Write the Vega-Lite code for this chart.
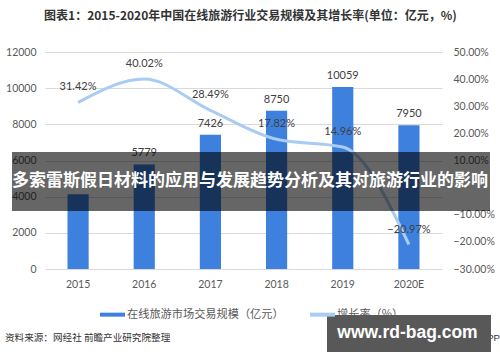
{
  "$schema": "https://vega.github.io/schema/vega-lite/v6.json",
  "width": 397,
  "height": 217,
  "autosize": {"type": "none"},
  "padding": {"left": 45, "top": 52, "right": 58, "bottom": 93},
  "background": "white",
  "title": {
    "text": "图表1：2015-2020年中国在线旅游行业交易规模及其增长率(单位：亿元，%)",
    "font": "Noto Sans CJK SC",
    "fontSize": 12,
    "fontWeight": "bold",
    "color": "#333333",
    "anchor": "middle",
    "dx": 7,
    "offset": 24
  },
  "config": {
    "view": {"stroke": null},
    "font": "Lato"
  },
  "layer": [
    {
      "data": {
        "values": [
          {"年份": "2015", "交易规模": 4127, "增长率": 0.3142},
          {"年份": "2016", "交易规模": 5779, "增长率": 0.4002},
          {"年份": "2017", "交易规模": 7426, "增长率": 0.2849},
          {"年份": "2018", "交易规模": 8750, "增长率": 0.1782},
          {"年份": "2019", "交易规模": 10059, "增长率": 0.1496},
          {"年份": "2020E", "交易规模": 7950, "增长率": -0.2097}
        ]
      },
      "encoding": {
        "x": {
          "field": "年份",
          "type": "ordinal",
          "sort": null,
          "scale": {"paddingInner": 0.68, "paddingOuter": 0.34},
          "axis": {
            "title": null,
            "labelAngle": 0,
            "domain": false,
            "ticks": false,
            "labelPadding": 10,
            "labelFont": "Lato",
            "labelFontSize": 10.5,
            "labelColor": "#595959"
          }
        }
      },
      "layer": [
        {
          "encoding": {
            "y": {
              "field": "交易规模",
              "type": "quantitative",
              "scale": {"domain": [0, 12000], "nice": false},
              "axis": {
                "title": null,
                "orient": "left",
                "values": [0, 2000, 4000, 6000, 8000, 10000, 12000],
                "format": "d",
                "domain": false,
                "ticks": false,
                "labelPadding": 9,
                "labelFont": "Lato",
                "labelFontSize": 10.5,
                "labelColor": "#595959",
                "grid": true,
                "gridColor": "#D9D9D9",
                "gridWidth": 1
              }
            }
          },
          "layer": [
            {
              "mark": {"type": "bar", "color": "#3E80DE"},
              "encoding": {
                "color": {
                  "datum": "在线旅游市场交易规模（亿元）",
                  "scale": {
                    "domain": ["在线旅游市场交易规模（亿元）", "增长率（%）"],
                    "range": ["#3E80DE", "#A8CCF2"]
                  },
                  "legend": {
                    "title": null,
                    "orient": "none",
                    "legendX": 55,
                    "legendY": 250,
                    "direction": "horizontal",
                    "symbolType": "M-1,-0.16H1V0.16H-1Z",
                    "symbolSize": 625,
                    "symbolStrokeWidth": 0,
                    "symbolOpacity": 1,
                    "labelFont": "Noto Sans CJK SC",
                    "labelFontSize": 11.2,
                    "labelColor": "#595959",
                    "labelLimit": 400,
                    "labelOffset": 2,
                    "columnPadding": 26,
                    "encode": {
                      "symbols": {
                        "update": {
                          "fill": {"scale": "color", "field": "value"},
                          "stroke": {"value": "transparent"}
                        }
                      }
                    }
                  }
                }
              }
            },
            {
              "transform": [{"filter": "datum['年份'] != '2015'"}],
              "mark": {
                "type": "text",
                "baseline": "bottom",
                "dy": -6,
                "font": "Lato",
                "fontSize": 11,
                "color": "#404040"
              },
              "encoding": {
                "text": {"field": "交易规模", "type": "quantitative", "format": "d"}
              }
            }
          ]
        },
        {
          "encoding": {
            "y": {
              "field": "增长率",
              "type": "quantitative",
              "scale": {"domain": [-0.3, 0.5], "nice": false},
              "axis": {
                "title": null,
                "orient": "right",
                "values": [-0.3, -0.2, -0.1, 0.1, 0.2, 0.3, 0.4, 0.5],
                "format": ".2%",
                "domain": false,
                "ticks": false,
                "grid": false,
                "labelPadding": 11,
                "labelFont": "Lato",
                "labelFontSize": 10.5,
                "labelColor": "#595959"
              }
            }
          },
          "layer": [
            {
              "mark": {
                "type": "line",
                "interpolate": "monotone",
                "strokeWidth": 3,
                "color": "#A8CCF2"
              },
              "encoding": {
                "color": {"datum": "增长率（%）"}
              }
            },
            {
              "mark": {
                "type": "text",
                "baseline": "middle",
                "dy": -15,
                "font": "Lato",
                "fontSize": 11,
                "color": "#404040"
              },
              "encoding": {
                "text": {"field": "增长率", "type": "quantitative", "format": ".2%"}
              }
            }
          ]
        }
      ],
      "resolve": {"scale": {"y": "independent"}}
    },
    {
      "data": {"values": [{}]},
      "encoding": {
        "x": {"datum": 0, "type": "quantitative", "scale": {"domain": [0, 100]}, "axis": null},
        "y": {"datum": 0, "type": "quantitative", "scale": {"domain": [0, 100]}, "axis": null}
      },
      "layer": [
        {
          "mark": {"type": "rect", "color": "black", "opacity": 0.6},
          "encoding": {
            "x": {"datum": -8.31, "type": "quantitative", "scale": {"domain": [0, 100]}, "axis": null},
            "x2": {"datum": 112.09},
            "y": {"datum": 53.92, "type": "quantitative", "scale": {"domain": [0, 100]}, "axis": null},
            "y2": {"datum": 26.73}
          }
        },
        {
          "mark": {
            "type": "text",
            "text": "多索雷斯假日材料的应用与发展趋势分析及其对旅游行业的影响",
            "font": "Noto Sans CJK SC",
            "fontSize": 17,
            "fontWeight": "bold",
            "color": "white",
            "align": "center",
            "baseline": "middle"
          },
          "encoding": {
            "x": {"datum": 51.64, "type": "quantitative", "scale": {"domain": [0, 100]}, "axis": null},
            "y": {"datum": 40.55, "type": "quantitative", "scale": {"domain": [0, 100]}, "axis": null}
          }
        },
        {
          "mark": {
            "type": "text",
            "text": "资料来源：网经社 前瞻产业研究院整理",
            "font": "Noto Sans CJK SC",
            "fontSize": 9.6,
            "color": "#333333",
            "align": "left",
            "baseline": "middle"
          },
          "encoding": {
            "x": {"datum": -10.08, "type": "quantitative", "scale": {"domain": [0, 100]}, "axis": null},
            "y": {"datum": -31.8, "type": "quantitative", "scale": {"domain": [0, 100]}, "axis": null}
          }
        },
        {
          "mark": {
            "type": "text",
            "text": "APP",
            "font": "Liberation Sans",
            "fontSize": 9.6,
            "color": "#333333",
            "align": "right",
            "baseline": "middle"
          },
          "encoding": {
            "x": {"datum": 114.6, "type": "quantitative", "scale": {"domain": [0, 100]}, "axis": null},
            "y": {"datum": -31.8, "type": "quantitative", "scale": {"domain": [0, 100]}, "axis": null}
          }
        },
        {
          "mark": {"type": "rect", "color": "#585858", "opacity": 1},
          "encoding": {
            "x": {"datum": 71.03, "type": "quantitative", "scale": {"domain": [0, 100]}, "axis": null},
            "x2": {"datum": 112.34},
            "y": {"datum": -21.2, "type": "quantitative", "scale": {"domain": [0, 100]}, "axis": null},
            "y2": {"datum": -38.25}
          }
        },
        {
          "mark": {
            "type": "text",
            "text": "www.rd-bag.com",
            "font": "Liberation Sans",
            "fontSize": 17.5,
            "fontWeight": "bold",
            "color": "white",
            "align": "center",
            "baseline": "middle"
          },
          "encoding": {
            "x": {"datum": 91.31, "type": "quantitative", "scale": {"domain": [0, 100]}, "axis": null},
            "y": {"datum": -29.72, "type": "quantitative", "scale": {"domain": [0, 100]}, "axis": null}
          }
        }
      ]
    }
  ],
  "resolve": {"scale": {"x": "independent", "y": "independent"}}
}
